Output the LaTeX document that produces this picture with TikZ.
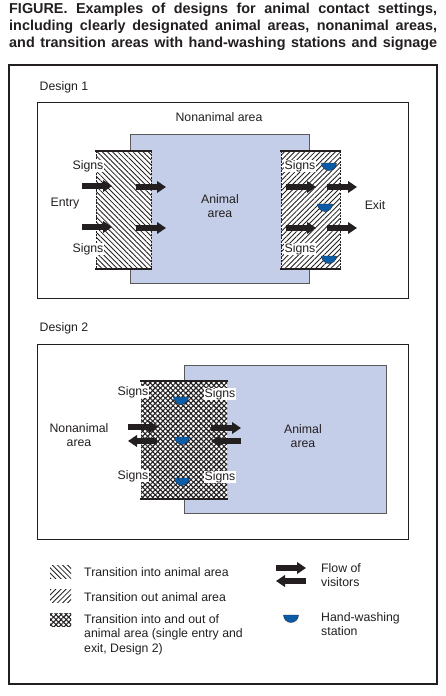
\documentclass[tikz,border=0pt]{standalone}
\usepackage{fontspec}
\setmainfont{Liberation Sans}
\usetikzlibrary{arrows.meta,patterns.meta}
\definecolor{areablue}{HTML}{C5CEE9}
\definecolor{basinblue}{HTML}{0A5CA8}
\definecolor{inkblack}{HTML}{231F20}
\newcommand{\basin}[3]{\path[basin] (#1,#2) ++(-#3 pt,0) arc[start angle=180,end angle=360,radius=#3 pt] -- cycle;}
\begin{document}
\begin{tikzpicture}[x=1pt,y=-1pt,every node/.style={inner sep=1pt,text=inkblack,font=\fontsize{12.3}{14}\selectfont}]
\tikzstyle{frame}=[draw=inkblack,line width=1pt,fill=white]
\tikzstyle{animal}=[draw=black!65,line width=0.9pt,fill=areablue]
\tikzstyle{arrow}=[draw=inkblack,line width=5.4pt,-{Triangle[length=9pt,width=11.5pt]}]
\tikzstyle{basin}=[fill=basinblue,draw=inkblack,line width=0.3pt]
\tikzstyle{signs}=[fill=white,inner sep=0.4pt]
\tikzstyle{edge}=[draw=inkblack,line width=1.6pt]
\tikzstyle{side}=[draw=inkblack,line width=0.6pt,dash pattern=on 2pt off 1.2pt]
\tikzstyle{hatchin}=[fill=white,postaction={pattern={Lines[angle=-45,distance=3.6pt,line width=0.85pt]},pattern color=inkblack}]
\tikzstyle{hatchout}=[fill=white,postaction={pattern={Lines[angle=45,distance=3.6pt,line width=0.85pt]},pattern color=inkblack}]
\tikzstyle{hatchboth}=[fill=white,postaction={pattern={Lines[angle=45,distance=3.6pt,line width=1.1pt]},pattern color=inkblack},postaction={pattern={Lines[angle=-45,distance=3.6pt,line width=1.1pt]},pattern color=inkblack}]
\useasboundingbox (0,0) rectangle (446,696);
\fill[white] (0,0) rectangle (446,696);

\node[anchor=north west,inner sep=0pt,text width=428pt,align=justify,font=\fontsize{14.4}{17}\selectfont\bfseries](title) at (9,3){FIGURE. Examples of designs for animal contact settings,\linebreak including clearly designated animal areas, nonanimal areas,\linebreak and transition areas with hand-washing stations and signage\parfillskip=0pt\par};

\draw[draw=inkblack,line width=1.8pt] (9,65) rectangle (437,684);

% design 1
\node(d1)  at (64,87){Design 1};
\draw[frame] (37,102) rectangle (408,298);
\draw[animal] (130,134) rectangle (309,283);
\node(d1non) at (219,117){Nonanimal area};
\node[align=center](d1ani) at (220,206){Animal\\area};
\node(d1in)  at (65,204){Entry};
\node(d1out) at (375,205){Exit};

\path[hatchin] (96,151) rectangle (151,269);
\path[hatchout] (281,151) rectangle (340,269);
\path[side] (96,151)--(96,269);
\path[side] (151,151)--(151,269);
\path[side] (281,151)--(281,269);
\path[side] (340,151)--(340,269);
\path[edge] (95,151)--(152,151);
\path[edge] (95,269)--(152,269);
\path[edge] (280,151)--(341,151);
\path[edge] (280,269)--(341,269);

\node[signs](s11) at (88,166){Signs};
\node[signs](s12) at (88,249){Signs};
\node[signs](s13) at (300,166){Signs};
\node[signs](s14) at (300,249){Signs};

\coordinate (a10) at (82,186);  \coordinate (a11) at (112,186);
\coordinate (a12) at (136,187); \coordinate (a13) at (166,187);
\coordinate (a14) at (82,227);  \coordinate (a15) at (112,227);
\coordinate (a16) at (136,228); \coordinate (a17) at (166,228);
\coordinate (a18) at (286,187); \coordinate (a19) at (316,187);
\coordinate (a20) at (327,187); \coordinate (a21) at (357,187);
\coordinate (a22) at (286,228); \coordinate (a23) at (316,228);
\coordinate (a24) at (327,228); \coordinate (a25) at (357,228);
\path[arrow](a10)--(a11);
\path[arrow](a12)--(a13);
\path[arrow](a14)--(a15);
\path[arrow](a16)--(a17);
\path[arrow](a18)--(a19);
\path[arrow](a20)--(a21);
\path[arrow](a22)--(a23);
\path[arrow](a24)--(a25);

\basin{329}{163}{7.5}
\basin{325}{204}{7.5}
\basin{329}{256}{7.5}

% design 2
\node(d2) at (64,328){Design 2};
\draw[frame] (37,344) rectangle (408,539);
\draw[animal] (184,365) rectangle (386,513);
\node[align=center](d2non) at (79,435){Nonanimal\\area};
\node[align=center](d2ani) at (303,436){Animal\\area};

\path[hatchboth] (141,381) rectangle (227,499);
\path[edge] (140,381)--(228,381);
\path[edge] (140,499)--(228,499);

\node[signs](s21) at (133,392){Signs};
\node[signs](s22) at (220,394){Signs};
\node[signs](s23) at (133,476){Signs};
\node[signs](s24) at (220,477){Signs};

\coordinate (b10) at (128,427); \coordinate (b11) at (158,427);
\coordinate (b12) at (157,441); \coordinate (b13) at (128,441);
\coordinate (b14) at (211,428); \coordinate (b15) at (241,428);
\coordinate (b16) at (241,441); \coordinate (b17) at (211,441);
\path[arrow](b10)--(b11);
\path[arrow](b12)--(b13);
\path[arrow](b14)--(b15);
\path[arrow](b16)--(b17);

\basin{181}{397}{7.5}
\basin{182}{437}{7.5}
\basin{182}{478}{7.5}

% legend
\path[hatchin] (50,565) rectangle (71,578);
\path[hatchout] (50,589) rectangle (71,602);
\path[hatchboth] (50,613) rectangle (71,626);
\node[anchor=west](l1) at (83,572){Transition into animal area};
\node[anchor=west](l2) at (83,597){Transition out animal area};
\node[anchor=north west,align=left,font=\fontsize{12.3}{14.6}\selectfont](l3) at (83,613){Transition into and out of\\animal area (single entry and\\exit, Design 2)};

\coordinate (c10) at (276,568); \coordinate (c11) at (306,568);
\coordinate (c12) at (306,581); \coordinate (c13) at (276,581);
\path[arrow](c10)--(c11);
\path[arrow](c12)--(c13);
\node[anchor=west,align=left,font=\fontsize{12.3}{14.6}\selectfont](l4) at (320,575){Flow of\\visitors};
\basin{291}{615}{7.5}
\node[anchor=west,align=left,font=\fontsize{12.3}{14.6}\selectfont](l5) at (320,624){Hand-washing\\station};
\end{tikzpicture}
\end{document}
